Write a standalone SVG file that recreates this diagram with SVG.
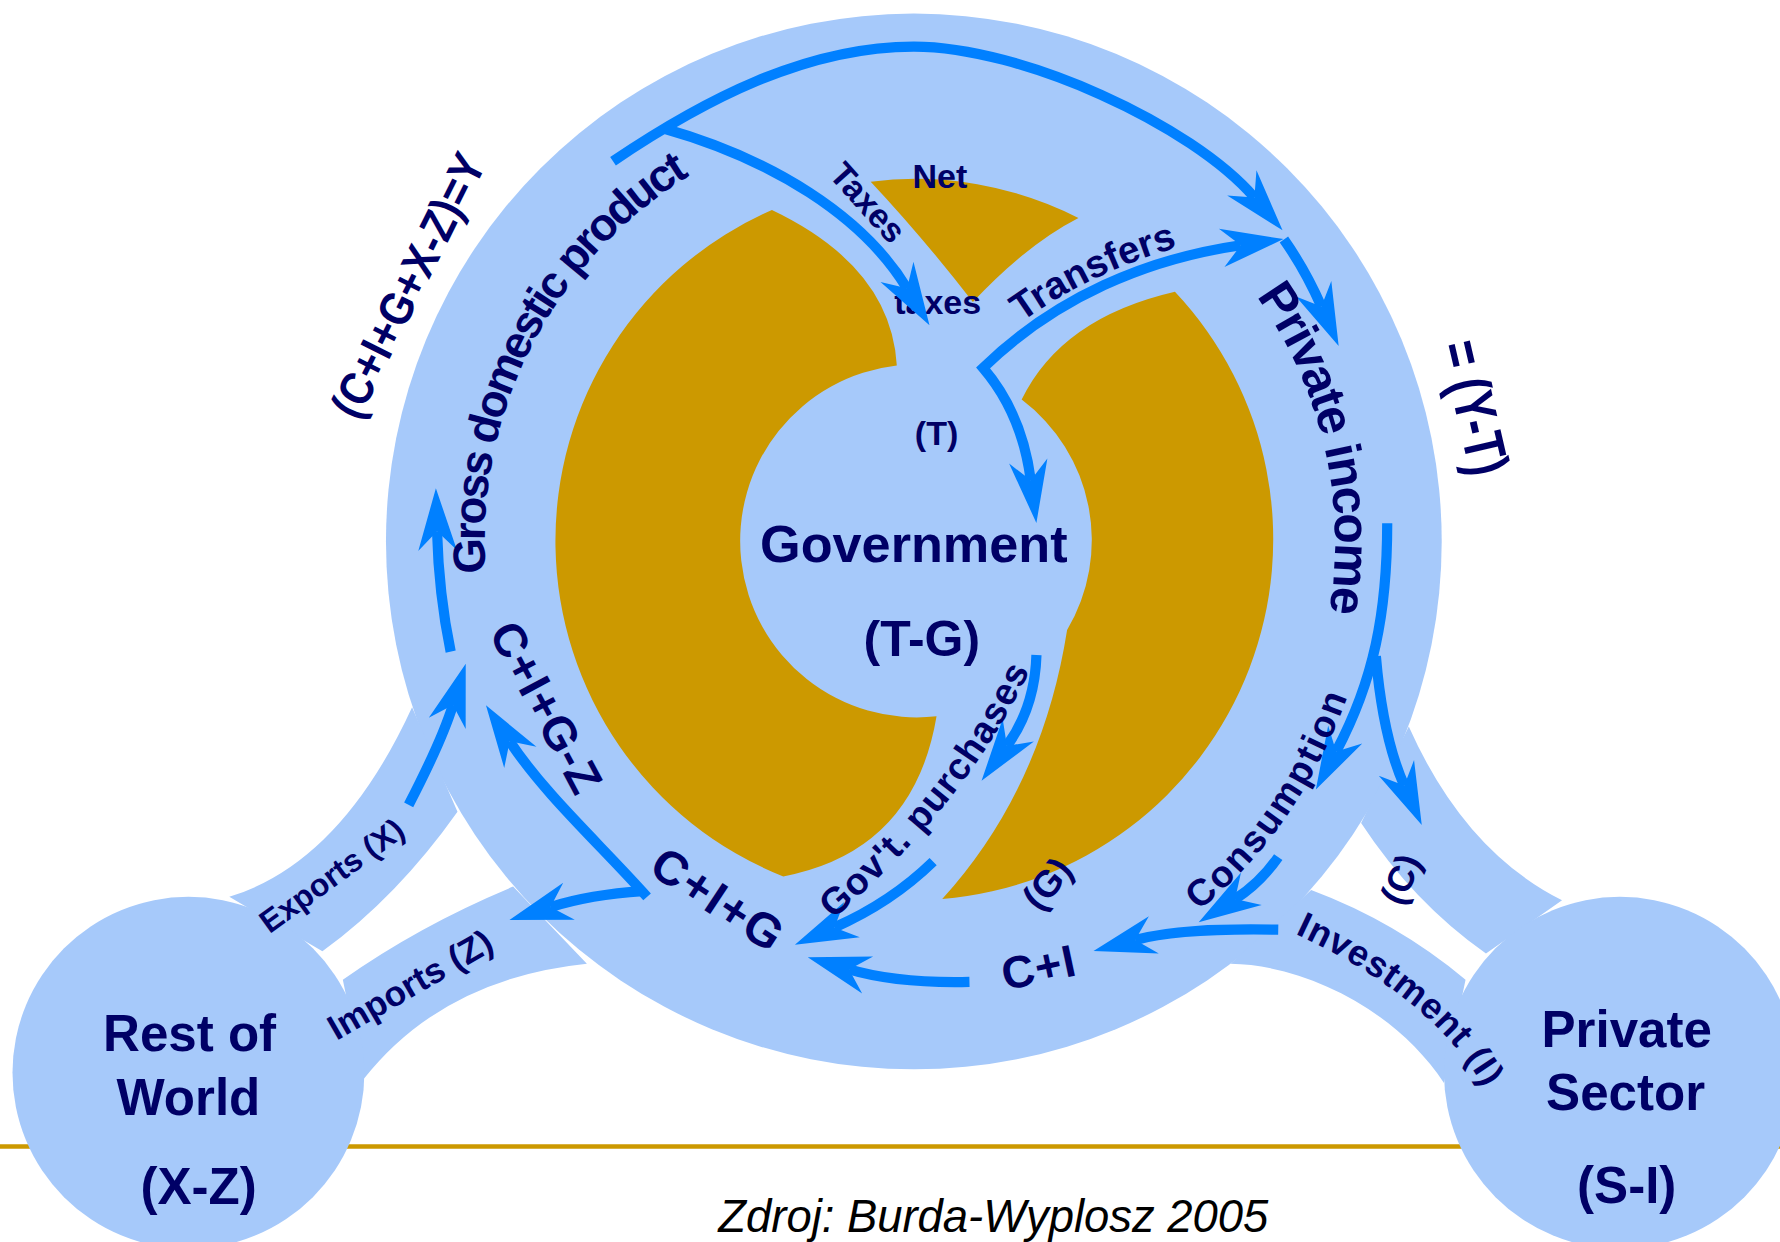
<svg xmlns="http://www.w3.org/2000/svg" width="1780" height="1242" viewBox="0 0 1780 1242">
<style>
.lb{fill:#A6C9FA}
.gd{fill:#CC9900}
.fl{fill:none;stroke:#0080FF;stroke-width:9;stroke-linejoin:miter}
.ae{marker-end:url(#ah)}
.as{marker-start:url(#ah)}
text{font-family:"Liberation Sans",Arial,Helvetica,sans-serif;font-weight:bold;fill:#000066}
.mid{text-anchor:middle}
.src{fill:#000000;font-weight:normal;font-style:italic}
</style>
<defs>
<marker id="ah" markerUnits="userSpaceOnUse" markerWidth="60" markerHeight="40" refX="0" refY="0" orient="auto-start-reverse" style="overflow:visible">
<path d="M38,0 L-17,-17 L0,0 L-17,17 Z" fill="#0080FF"/>
</marker>
<path id="p-gdp" d="M449.8,606.3 A378,378 0 0 1 805,99"/>
<path id="p-pi" d="M990.5,155.7 A371,371 0 0 1 1089.2,715.5"/>
<path id="p-tr" d="M858,318 Q950,232 1090,205"/>
<path id="p-gov" d="M735,809 Q853,706 907,591"/>
<path id="p-con" d="M1055,803 Q1144,733 1188,611"/>
<path id="p-inv" d="M1144,824 Q1261,879 1306,956"/>
</defs>
<rect width="1780" height="1242" fill="#FFFFFF"/>
<g transform="scale(1.135204)">
<line id="rule" x1="0" y1="1010" x2="1570" y2="1010" stroke="#CC9900" stroke-width="4"/>
<g id="economy">
<circle class="lb" cx="805" cy="477" r="465"/>
<path class="lb" d="M363,623 Q300,760 202,790 L284,838 Q350,790 403,715 Z"/>
<path class="lb" d="M452,781 Q370,815 302,863 L320,951 Q390,862 517,849 Z"/>
<path class="lb" d="M1241,640 Q1290,750 1376,793 L1309,840 Q1245,795 1199,725 Z"/>
<path class="lb" d="M1155,784 Q1230,812 1291,863 L1272,954 C1230,890 1150,850 1084,849 Z"/>
<path class="gd" d="M680,185 A318,318 0 0 0 690,772 Q805,750 825,631 A155,155 0 1 1 790,322 Q785,235 680,185 Z"/>
<path class="gd" d="M1035,257 A318,318 0 0 1 830,792 Q918,695 940,555 A155,155 0 0 0 900,352 Q935,280 1035,257 Z"/>
<path class="gd" d="M767,160 A318,318 0 0 1 950,192 Q905,215 857,266 Q812,208 767,160 Z"/>
</g>
<g id="rest-of-world">
<circle class="lb" cx="166" cy="945" r="155"/>
<text class="mid" font-size="45" x="167" y="926">Rest of</text>
<text class="mid" font-size="45" x="166" y="982">World</text>
<text class="mid" font-size="45" x="175" y="1061">(X-Z)</text>
</g>
<g id="private-sector">
<circle class="lb" cx="1427" cy="945" r="155"/>
<text class="mid" font-size="45" x="1433" y="922">Private</text>
<text class="mid" font-size="45" x="1432" y="978">Sector</text>
<text class="mid" font-size="45" x="1433" y="1060">(S-I)</text>
</g>
<g id="net-taxes-label">
<text class="mid" font-size="30" x="828" y="166">Net</text>
<text class="mid" font-size="30" x="826" y="277">taxes</text>
</g>
<g id="connectors">
<path class="fl ae" d="M540,142 C620,88 710,41 805,41 C900,41 1050,110 1105,174"/>
<path class="fl ae" d="M584,113 C680,140 760,190 799,254"/>
<path class="fl as ae" d="M1093,216 C1010,228 930,262 866,324 C890,352 903,385 908,423"/>
<path class="fl ae" d="M1131,211 Q1150,238 1164,270"/>
<path class="fl ae" d="M1222,461 C1222,540 1210,600 1177,662"/>
<path class="fl ae" d="M1212,578 C1216,625 1225,665 1237,692"/>
<path class="fl ae" d="M1126,755 Q1110,778 1088,792"/>
<path class="fl ae" d="M1126,819 C1070,818 1030,820 1000,828"/>
<path class="fl ae" d="M854,865 C810,866 775,862 748,854"/>
<path class="fl ae" d="M913,577 C912,610 903,635 887,657"/>
<path class="fl ae" d="M822,759 Q785,795 735,817"/>
<path class="fl ae" d="M570,790 C530,745 480,700 449,653"/>
<path class="fl ae" d="M566,785 Q520,788 485,799"/>
<path class="fl ae" d="M360,709 C375,680 390,650 399,621"/>
<path class="fl ae" d="M397,574 C390,540 386,505 385,468"/>
</g>
<g id="government">
<text class="mid" font-size="30" x="825" y="392">(T)</text>
<text class="mid" font-size="46" x="805" y="495">Government</text>
<text class="mid" font-size="44" x="812" y="578">(T-G)</text>
</g>
<g id="labels">
<text class="mid" font-size="36" transform="translate(361,252) rotate(-63.5) scale(1,1.15)" y="11">(C+I+G+X-Z)=Y</text>
<text class="mid" font-size="40" letter-spacing="-2.3"><textPath href="#p-gdp" startOffset="310">Gross domestic product</textPath></text>
<text class="mid" font-size="30" transform="translate(765,178) rotate(48)" y="11">Taxes</text>
<text class="mid" font-size="34"><textPath href="#p-tr" startOffset="50%">Transfers</textPath></text>
<text class="mid" font-size="44" letter-spacing="-1.5"><textPath href="#p-pi" startOffset="304">Private income</textPath></text>
<text class="mid" font-size="39" transform="translate(1295,360) rotate(77) scale(1,1.3)" y="10">= (Y-T)</text>
<text class="mid" font-size="41" letter-spacing="0.8" transform="translate(482,623) rotate(62)" y="15">C+I+G-Z</text>
<text class="mid" font-size="42" letter-spacing="1.5" transform="translate(633,792) rotate(33.4)" y="15">C+I+G</text>
<text class="mid" font-size="40" letter-spacing="1" transform="translate(915,852) rotate(-12)" y="14">C+I</text>
<text class="mid" font-size="33" letter-spacing="1"><textPath href="#p-gov" startOffset="50%">Gov't. purchases</textPath></text>
<text class="mid" font-size="33" transform="translate(922,778) rotate(-50)" y="12">(G)</text>
<text class="mid" font-size="33" letter-spacing="2"><textPath href="#p-con" startOffset="50%">Consumption</textPath></text>
<text class="mid" font-size="32" transform="translate(1233,774) rotate(-67)" y="12">(C)</text>
<text class="mid" font-size="32" letter-spacing="0.8"><textPath href="#p-inv" startOffset="50%">Investment (I)</textPath></text>
<text class="mid" font-size="28" transform="translate(292,771) rotate(-36)" y="10">Exports (X)</text>
<text class="mid" font-size="31" transform="translate(361,867) rotate(-30)" y="11">Imports (Z)</text>
</g>
<text class="mid src" font-size="40" x="875" y="1085">Zdroj: Burda-Wyplosz 2005</text>
</g>
</svg>
